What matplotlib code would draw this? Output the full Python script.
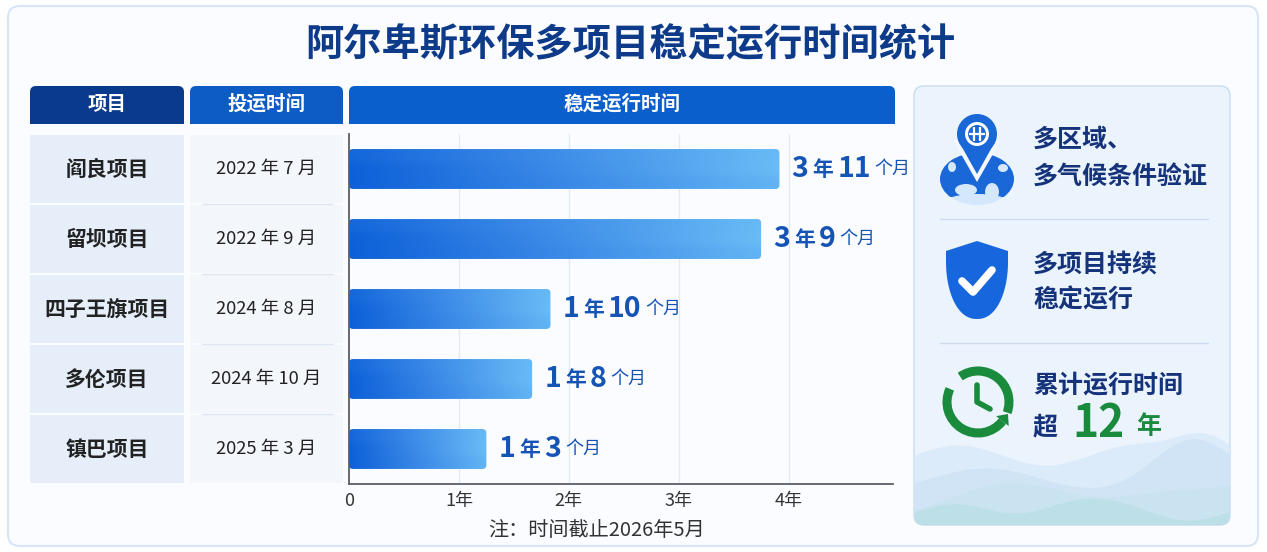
import numpy as np
import matplotlib
matplotlib.use("Agg")
import matplotlib.pyplot as plt
from matplotlib.patches import FancyBboxPatch, Circle, Polygon, Rectangle, Arc, Ellipse
from matplotlib.colors import LinearSegmentedColormap
import matplotlib.transforms as mtransforms

plt.rcParams['font.family'] = ['Noto Sans CJK SC', 'DejaVu Sans']

# ---- data ----
title = '阿尔卑斯环保多项目稳定运行时间统计'
headers = ['项目', '投运时间', '稳定运行时间']
projects = ['阎良项目', '留坝项目', '四子王旗项目', '多伦项目', '镇巴项目']
start_dates = ['2022 年 7 月', '2022 年 9 月', '2024 年 8 月', '2024 年 10 月', '2025 年 3 月']
run_years = [3, 3, 1, 1, 1]
run_months = [11, 9, 10, 8, 3]
durations = [y + m / 12 for y, m in zip(run_years, run_months)]
xticks = [0, 1, 2, 3, 4]
xtick_labels = ['0', '1年', '2年', '3年', '4年']
note = '注：时间截止2026年5月'
panel_lines = [['多区域、', '多气候条件验证'], ['多项目持续', '稳定运行'], ['累计运行时间']]
total_years = 12

W, H = 1267, 552
fig = plt.figure(figsize=(W / 100, H / 100), dpi=100)
fig.patch.set_facecolor('white')

# background axes in pixel coordinates
bg = fig.add_axes([0, 0, 1, 1])
bg.set_xlim(0, W)
bg.set_ylim(H, 0)
bg.axis('off')

card = FancyBboxPatch((8, 6), 1250, 540, boxstyle='round,pad=0,rounding_size=12',
                      fc='#fafcff', ec='#d7e5f6', lw=1.5)
bg.add_patch(card)

bg.text(630, 45, title, ha='center', va='center', fontsize=27.5, fontweight='bold', color='#0e3a8a')

# header tabs
hdr = [(30, 184, '#0a3a8c'), (190, 343, '#0d5bc4'), (349, 895, '#0b5fcc')]
for (x0, x1, c), t in zip(hdr, headers):
    bg.add_patch(FancyBboxPatch((x0, 86), x1 - x0, 38, boxstyle='round,pad=0,rounding_size=6',
                                fc=c, ec='none'))
    bg.add_patch(Rectangle((x0, 110), x1 - x0, 14, fc=c, ec='none'))
    bg.text((x0 + x1) / 2, 104, t, ha='center', va='center', fontsize=14,
            fontweight='bold', color='white')

# ---- bar axes ----
axL, axR, axT, axB = 349, 893, 134, 484
ax = fig.add_axes([axL / W, (H - axB) / H, (axR - axL) / W, (axB - axT) / H])
ax.patch.set_alpha(0)
xmax = 4.95
ax.set_xlim(0, xmax)
ax.set_ylim(len(projects) - 0.5, -0.5)

rows = np.arange(len(projects))
bar_h = 0.57
bars = ax.barh(rows, durations, height=bar_h, color='none', edgecolor='none')

cmap = LinearSegmentedColormap.from_list('bar', ['#0d60d8', '#3d8ce8', '#6abcf6'])
px_x = xmax / (axR - axL)
px_y = len(projects) / (axB - axT)
for rect in bars:
    x0, y0, w, h = rect.get_x(), rect.get_y(), rect.get_width(), rect.get_height()
    patch = FancyBboxPatch((x0, y0), w, h, boxstyle='round,pad=0,rounding_size=%f' % (4 * px_x),
                           mutation_aspect=px_y / px_x, fc='none', ec='none')
    ax.add_patch(patch)
    grad = np.linspace(0, 1, 256).reshape(1, -1)
    grad = np.vstack([grad * 0.9 + 0.08, grad, grad * 0.92])
    im = ax.imshow(grad, extent=[x0, x0 + w, y0 + h, y0], aspect='auto', cmap=cmap,
                   vmin=0, vmax=1, zorder=2)
    im.set_clip_path(patch)
ax.set_xlim(0, xmax)
ax.set_ylim(len(projects) - 0.5, -0.5)

ax.set_xticks(xticks)
ax.set_xticklabels(xtick_labels, fontsize=13, color='#333333')
ax.set_yticks([])
ax.tick_params(axis='x', length=0, pad=6)
for s in ['top', 'right']:
    ax.spines[s].set_visible(False)
for s in ['left', 'bottom']:
    ax.spines[s].set_color('#5a5f68')
    ax.spines[s].set_linewidth(1.3)
for xt in xticks[1:]:
    ax.axvline(xt, color='#e4e9f2', lw=1, zorder=0)

# value labels built from pieces
fig.canvas.draw()
renderer = fig.canvas.get_renderer()
lab_col = '#1553b5'
for i, (d, yv, mv) in enumerate(zip(durations, run_years, run_months)):
    parts = [(str(yv), 20.5, 'bold', 4), ('年', 15, 'bold', 4), (str(mv), 20.5, 'bold', 4),
             ('个月', 13, 'normal', 0)]
    off = 12
    for txt, fs, fw, gap in parts:
        t = ax.annotate(txt, xy=(d, i), xytext=(off, 0), textcoords='offset pixels',
                        ha='left', va='center', fontsize=fs, fontweight=fw, color=lab_col,
                        zorder=5)
        off += t.get_window_extent(renderer).width + gap

# table cells, aligned to bar rows
trans = mtransforms.blended_transform_factory(bg.transData, ax.transData)
row_px = (axB - axT) / len(projects)
for i, (p, sd) in enumerate(zip(projects, start_dates)):
    top = axT + i * row_px
    bg.add_patch(Rectangle((30, top + 1), 154, row_px - 2, fc='#e5eef9', ec='none'))
    bg.add_patch(Rectangle((190, top + 1), 153, row_px - 2, fc='#f3f7fc', ec='none'))
    if i > 0:
        bg.plot([202, 333], [top, top], color='#dde6f2', lw=1)
    bg.text(107, i, p, transform=trans, ha='center', va='center', fontsize=15,
            fontweight='bold', color='#222222')
    bg.text(266, i, sd, transform=trans, ha='center', va='center', fontsize=13.3,
            color='#222222')

bg.text(597, 530, note, ha='center', va='center', fontsize=14.5, color='#333333')

# ---- right panel ----
panel = FancyBboxPatch((914, 86), 316, 439, boxstyle='round,pad=0,rounding_size=10',
                       fc='#ebf3fd', ec='#cfe0f5', lw=1.2)
bg.add_patch(panel)
# mountains (decoration)
xs = np.linspace(914, 1230, 200)
layers = [
    (455 - 30 * np.exp(-((xs - 1205) / 40) ** 2) - 10 * np.sin((xs - 914) / 28), '#d9e9f8', 0.8),
    (478 - 30 * np.exp(-((xs - 1190) / 50) ** 2) - 10 * np.sin((xs - 930) / 35), '#c9e0f5', 0.6),
    (498 - 15 * np.sin((xs - 950) / 40) - 20 * np.exp(-((xs - 1150) / 60) ** 2), '#c6e3ec', 0.55),
    (512 - 8 * np.sin((xs - 914) / 25) - 12 * np.exp(-((xs - 1060) / 50) ** 2), '#b2dcdf', 0.5),
]
for yy, c, a in layers:
    f = bg.fill_between(xs, yy, 530, color=c, alpha=a, lw=0)
    f.set_clip_path(panel)

for yl in [219, 343]:
    bg.plot([940, 1208], [yl, yl], color='#cddcf0', lw=1)

navy = '#15337a'
kw = dict(ha='left', va='center', fontsize=18, fontweight='bold', color=navy)
bg.text(1033, 140, panel_lines[0][0], **kw)
bg.text(1033, 177, panel_lines[0][1], **kw)
bg.text(1033, 265, panel_lines[1][0], **kw)
bg.text(1033, 300, panel_lines[1][1], **kw)
bg.text(1033, 385, panel_lines[2][0], **kw)
bg.text(1033, 427, '超', **kw)
green = '#1a8a3c'
bg.text(1072, 424, str(total_years), ha='left', va='center', fontsize=32, fontweight='bold', color=green)
bg.text(1136, 427, '年', ha='left', va='center', fontsize=18, fontweight='bold', color=green)

# icon 1: globe dome + pin
blue = '#1a68d8'
globe = Ellipse((977, 179), 74, 52, fc=blue, ec='none')
bg.add_patch(globe)
clip = Rectangle((930, 140), 100, 57, transform=bg.transData)
globe.set_clip_path(clip)
for (cx, cy, rx, ry) in [(966, 190, 11, 6), (992, 192, 7, 9), (977, 201, 30, 7), (1003, 168, 5, 4),
                         (952, 167, 4, 5)]:
    e = Ellipse((cx, cy), 2 * rx, 2 * ry, fc='#d5e7fb', ec='none')
    bg.add_patch(e)
    e.set_clip_path(globe)
bg.add_patch(Polygon([(953, 140), (1001, 140), (977, 182)], fc='#f4f8fe', ec='none'))
bg.add_patch(Polygon([(958, 140), (996, 140), (977, 174)], fc=blue, ec='none'))
bg.add_patch(Circle((977, 134), 20, fc=blue, ec='none'))
bg.add_patch(Circle((977, 134), 12, fc='white', ec='none'))
bg.add_patch(Circle((977, 134), 9, fc=blue, ec='none'))
for dx in (-3, 3):
    bg.plot([977 + dx, 977 + dx], [127, 141], color='white', lw=1.6, solid_capstyle='butt')
bg.plot([970, 984], [134, 134], color='white', lw=1.6)

# icon 2: shield with check
curve = [(977 - 31 * np.cos(a) ** 0.9, 262 + 57 * np.sin(a)) for a in np.linspace(0, np.pi / 2, 30)]
pts_l = [(946, 251)] + curve
pts_r = [(2 * 977 - x, y) for x, y in reversed(pts_l)]
shield = Polygon([(977, 241)] + pts_l + pts_r, closed=True, fc='#1667de', ec='none')
bg.add_patch(shield)
bg.plot([962, 973, 992], [281, 292, 270], color='white', lw=5.5, solid_capstyle='round',
        solid_joinstyle='round')

# icon 3: green clock with arrow (pixel axis is y-down, so angles run clockwise on screen)
cx, cy, r = 978, 402, 31
bg.add_patch(Arc((cx, cy), 2 * r, 2 * r, theta1=-125, theta2=20, color=green, lw=6.5))
bg.add_patch(Arc((cx, cy), 2 * r, 2 * r, theta1=38, theta2=205, color=green, lw=6.5))
ang = np.deg2rad(38)
ax_, ay_ = cx + r * np.cos(ang), cy + r * np.sin(ang)
tx, ty = -np.sin(ang), np.cos(ang)
nx, ny = np.cos(ang), np.sin(ang)
head = Polygon([(ax_ - 9 * tx, ay_ - 9 * ty), (ax_ + 8 * nx, ay_ + 8 * ny),
                (ax_ - 8 * nx, ay_ - 8 * ny)], fc=green, ec='none')
bg.add_patch(head)
bg.plot([977, 977, 990], [385, 402, 409], color=green, lw=4, solid_capstyle='round',
        solid_joinstyle='round')

fig.savefig('out.png', dpi=100, facecolor='white')
